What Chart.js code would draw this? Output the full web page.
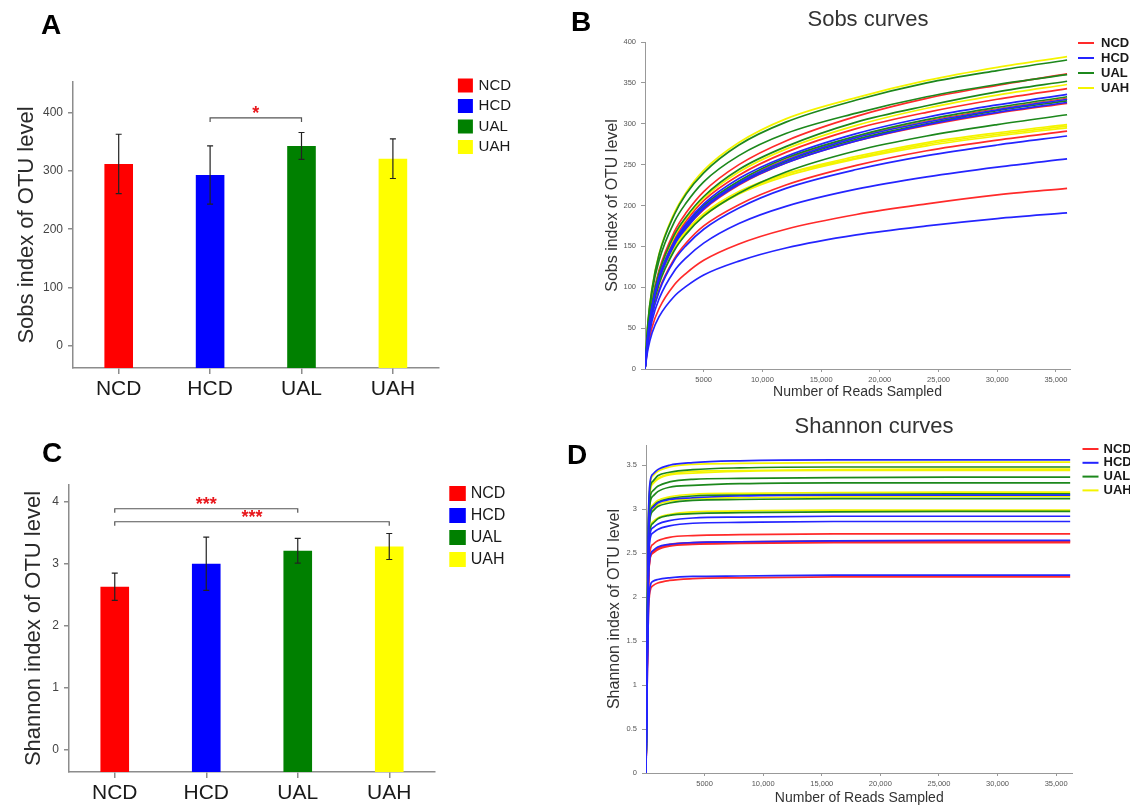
<!DOCTYPE html>
<html>
<head>
<meta charset="utf-8">
<script src="https://cdn.jsdelivr.net/npm/chart.js@4.4.1/dist/chart.umd.min.js"></script>
<style>
  html, body { margin: 0; padding: 0; background: #fff; }
  #fig { position: relative; width: 1130px; height: 807px; overflow: hidden; font-family: 'Liberation Sans', Arial, sans-serif; }
  canvas { position: absolute; }
  .letter { position: absolute; font-weight: bold; font-size: 28px; line-height: 1; color: #000; }
</style>
</head>
<body>
<div id="fig">
  <canvas id="chart-a" width="560" height="400" style="left:0;top:0"></canvas>
  <canvas id="chart-b" width="570" height="400" style="left:560px;top:0"></canvas>
  <canvas id="chart-c" width="560" height="407" style="left:0;top:400px"></canvas>
  <canvas id="chart-d" width="570" height="407" style="left:560px;top:400px"></canvas>
  <div class="letter" style="left:41px;top:11px">A</div>
  <div class="letter" style="left:571px;top:8px">B</div>
  <div class="letter" style="left:42px;top:439px">C</div>
  <div class="letter" style="left:567px;top:441px">D</div>
</div>
<script>
'use strict';

const GROUPS = ['NCD', 'HCD', 'UAL', 'UAH'];
const BAR_COLORS = ['#ff0000', '#0000ff', '#008000', '#ffff00'];
const LINE_COLORS = ['#ff2a2a', '#2424ff', '#1c881c', '#f4f400'];

// A: Sobs index, mean and SD per group
const SOBS_MEAN = [312, 293, 343, 321];
const SOBS_SD = [51, 50, 23, 34];
const SOBS_TICKS = [0, 100, 200, 300, 400];
const SOBS_SIG = [[1, 2, 391, '*']];

// C: Shannon index, mean and SD per group
const SHANNON_MEAN = [2.63, 3.0, 3.21, 3.28];
const SHANNON_SD = [0.22, 0.43, 0.2, 0.21];
const SHANNON_TICKS = [0, 1, 2, 3, 4];
const SHANNON_SIG = [[0, 2, 3.89, '***'], [0, 3, 3.68, '***']];

const READ_TICKS = [5000, 10000, 15000, 20000, 25000, 30000, 35000];
const READ_TICK_LABELS = ['5000', '10,000', '15,000', '20,000', '25,000', '30,000', '35,000'];

// B: Sobs rarefaction curves
const SOBS_READS = [0, 250, 600, 1200, 2500, 3500, 5000, 8000, 12000, 18000, 24000, 30000, 35950];
const SOBS_CURVE_TICKS = [0, 50, 100, 150, 200, 250, 300, 350, 400];
const SOBS_NCD = [
  [0, 45, 83, 121, 168, 191, 217, 250, 279, 309, 331, 347, 361],
  [0, 43, 79, 115, 159, 181, 206, 237, 265, 294, 314, 330, 343],
  [0, 42, 76, 111, 154, 175, 199, 229, 256, 284, 303, 318, 331],
  [0, 41, 74, 109, 151, 172, 195, 225, 252, 279, 298, 313, 325],
  [0, 37, 67, 97, 135, 154, 175, 201, 225, 249, 267, 280, 291],
  [0, 28, 51, 74, 103, 117, 133, 153, 171, 189, 202, 213, 221]
];
const SOBS_HCD = [
  [0, 42, 77, 113, 156, 178, 202, 233, 260, 288, 308, 323, 336],
  [0, 42, 76, 111, 153, 175, 198, 228, 255, 283, 302, 317, 330],
  [0, 41, 75, 109, 152, 172, 196, 226, 252, 279, 299, 314, 326],
  [0, 36, 65, 95, 133, 151, 171, 197, 221, 244, 261, 274, 285],
  [0, 32, 59, 86, 120, 136, 154, 178, 199, 220, 235, 247, 257],
  [0, 24, 44, 64, 89, 101, 115, 132, 148, 164, 175, 184, 191]
];
const SOBS_UAL = [
  [0, 57, 98, 140, 189, 214, 240, 274, 302, 329, 350, 365, 378],
  [0, 54, 94, 133, 180, 203, 229, 261, 288, 313, 333, 348, 360],
  [0, 44, 81, 118, 164, 186, 211, 244, 272, 302, 322, 339, 352],
  [0, 42, 76, 112, 155, 176, 200, 230, 258, 285, 305, 320, 333],
  [0, 41, 75, 110, 153, 174, 197, 227, 254, 281, 300, 316, 328],
  [0, 39, 71, 104, 145, 165, 187, 215, 241, 267, 285, 299, 311]
];
const SOBS_UAH = [
  [0, 57, 99, 141, 191, 216, 243, 277, 306, 332, 353, 369, 382],
  [0, 44, 80, 117, 162, 184, 209, 241, 269, 298, 319, 335, 348],
  [0, 42, 76, 111, 153, 175, 198, 228, 255, 283, 302, 317, 330],
  [0, 45, 78, 111, 150, 169, 190, 217, 239, 260, 277, 289, 299],
  [0, 45, 77, 110, 149, 168, 189, 215, 238, 258, 275, 287, 297],
  [0, 44, 77, 109, 148, 167, 187, 214, 236, 257, 273, 285, 295]
];

// D: Shannon rarefaction curves
const SHANNON_READS = [0, 100, 200, 350, 600, 1000, 2000, 4000, 8000, 16000, 26000, 36200];
const SHANNON_CURVE_TICKS = [0, 0.5, 1, 1.5, 2, 2.5, 3, 3.5];
const SHANNON_NCD = [
  [0, 1.22, 2.18, 2.53, 2.60, 2.64, 2.68, 2.70, 2.71, 2.72, 2.72, 2.72],
  [0, 1.19, 2.11, 2.46, 2.52, 2.56, 2.60, 2.62, 2.63, 2.64, 2.64, 2.64],
  [0, 1.18, 2.10, 2.45, 2.51, 2.55, 2.59, 2.61, 2.62, 2.63, 2.63, 2.63],
  [0, 1.18, 2.10, 2.44, 2.50, 2.54, 2.58, 2.60, 2.61, 2.62, 2.62, 2.62],
  [0, 1.00, 1.78, 2.07, 2.13, 2.16, 2.19, 2.21, 2.22, 2.23, 2.23, 2.23]
];
const SHANNON_HCD = [
  [0, 1.60, 2.85, 3.31, 3.40, 3.45, 3.50, 3.53, 3.55, 3.56, 3.56, 3.56],
  [0, 1.42, 2.53, 2.94, 3.02, 3.07, 3.11, 3.13, 3.15, 3.16, 3.16, 3.16],
  [0, 1.31, 2.34, 2.72, 2.79, 2.83, 2.87, 2.90, 2.91, 2.92, 2.92, 2.92],
  [0, 1.29, 2.29, 2.66, 2.73, 2.77, 2.81, 2.84, 2.85, 2.86, 2.86, 2.86],
  [0, 1.19, 2.12, 2.46, 2.53, 2.57, 2.60, 2.62, 2.63, 2.64, 2.645, 2.645],
  [0, 1.01, 1.80, 2.12, 2.18, 2.20, 2.22, 2.235, 2.24, 2.25, 2.25, 2.25]
];
const SHANNON_UAL = [
  [0, 1.57, 2.78, 3.24, 3.32, 3.38, 3.42, 3.45, 3.47, 3.48, 3.48, 3.48],
  [0, 1.51, 2.69, 3.13, 3.21, 3.26, 3.31, 3.34, 3.35, 3.36, 3.365, 3.365],
  [0, 1.49, 2.64, 3.07, 3.15, 3.20, 3.25, 3.27, 3.29, 3.30, 3.30, 3.30],
  [0, 1.43, 2.54, 2.95, 3.03, 3.08, 3.12, 3.15, 3.16, 3.17, 3.175, 3.175],
  [0, 1.40, 2.50, 2.90, 2.98, 3.03, 3.07, 3.10, 3.11, 3.12, 3.12, 3.12],
  [0, 1.34, 2.38, 2.77, 2.84, 2.89, 2.93, 2.95, 2.96, 2.97, 2.975, 2.975]
];
const SHANNON_UAH = [
  [0, 1.59, 2.83, 3.29, 3.38, 3.43, 3.48, 3.51, 3.52, 3.53, 3.535, 3.535],
  [0, 1.55, 2.76, 3.21, 3.30, 3.35, 3.40, 3.43, 3.44, 3.45, 3.455, 3.455],
  [0, 1.55, 2.75, 3.20, 3.29, 3.34, 3.39, 3.41, 3.43, 3.44, 3.44, 3.44],
  [0, 1.44, 2.56, 2.97, 3.05, 3.10, 3.14, 3.17, 3.18, 3.19, 3.195, 3.195],
  [0, 1.42, 2.52, 2.92, 3.00, 3.05, 3.09, 3.12, 3.13, 3.14, 3.145, 3.145],
  [0, 1.35, 2.39, 2.78, 2.86, 2.90, 2.94, 2.97, 2.98, 2.99, 2.99, 2.99]
];

const FONT = "'Liberation Sans', Arial, sans-serif";
const AXIS = '#8c8c8c';
Chart.defaults.font.family = FONT;

const errorBars = {
  id: 'errorBars',
  afterDatasetsDraw(chart, args, opts) {
    if (!opts.sd) { return; }
    const { ctx, scales: { y } } = chart;
    const values = chart.data.datasets[0].data;
    ctx.save();
    ctx.strokeStyle = '#222';
    ctx.lineWidth = 1.2;
    chart.getDatasetMeta(0).data.forEach((bar, i) => {
      const top = y.getPixelForValue(values[i] + opts.sd[i]);
      const bot = y.getPixelForValue(values[i] - opts.sd[i]);
      ctx.beginPath();
      ctx.moveTo(bar.x, top); ctx.lineTo(bar.x, bot);
      ctx.moveTo(bar.x - 3, top); ctx.lineTo(bar.x + 3, top);
      ctx.moveTo(bar.x - 3, bot); ctx.lineTo(bar.x + 3, bot);
      ctx.stroke();
    });
    ctx.restore();
  }
};

const brackets = {
  id: 'brackets',
  afterDatasetsDraw(chart, args, opts) {
    if (!opts.items) { return; }
    const { ctx, scales: { x, y } } = chart;
    ctx.save();
    opts.items.forEach(([a, b, v, label]) => {
      const x1 = x.getPixelForValue(a);
      const x2 = x.getPixelForValue(b);
      const yy = y.getPixelForValue(v);
      ctx.strokeStyle = '#555';
      ctx.lineWidth = 1.2;
      ctx.beginPath();
      ctx.moveTo(x1, yy + 4); ctx.lineTo(x1, yy); ctx.lineTo(x2, yy); ctx.lineTo(x2, yy + 4);
      ctx.stroke();
      ctx.fillStyle = '#e8161b';
      ctx.font = 'bold 18px ' + FONT;
      ctx.textAlign = 'center';
      ctx.textBaseline = 'alphabetic';
      ctx.fillText(label, (x1 + x2) / 2, yy + 1.5);
    });
    ctx.restore();
  }
};

const sideLegend = {
  id: 'sideLegend',
  afterDraw(chart, args, o) {
    if (!o.labels) { return; }
    const { ctx, chartArea } = chart;
    ctx.save();
    ctx.font = o.font;
    ctx.textAlign = 'left';
    ctx.textBaseline = 'middle';
    o.labels.forEach((label, i) => {
      const cy = o.top + i * o.step;
      const x0 = chartArea.right + o.dx;
      ctx.fillStyle = o.colors[i];
      if (o.line) { ctx.fillRect(x0, cy - 1, o.w, 2); } else { ctx.fillRect(x0, cy - o.h / 2, o.w, o.h); }
      ctx.fillStyle = '#1a1a1a';
      ctx.fillText(label, chartArea.right + o.textDx, cy);
    });
    ctx.restore();
  }
};

const panelTitle = {
  id: 'panelTitle',
  afterDraw(chart, args, o) {
    if (!o.text) { return; }
    const ctx = chart.ctx;
    ctx.save();
    ctx.font = '22px ' + FONT;
    ctx.fillStyle = '#333';
    ctx.textAlign = 'center';
    ctx.textBaseline = 'middle';
    ctx.fillText(o.text, o.x, o.y);
    ctx.restore();
  }
};

function barChart(id, o) {
  return new Chart(document.getElementById(id), {
    type: 'bar',
    data: {
      labels: GROUPS,
      datasets: [{ data: o.values, backgroundColor: BAR_COLORS, base: o.min, barPercentage: 0.313, categoryPercentage: 1 }]
    },
    options: {
      responsive: false,
      animation: false,
      layout: { padding: o.padding },
      plugins: {
        legend: { display: false },
        tooltip: { enabled: false },
        errorBars: { sd: o.sd },
        brackets: { items: o.sig },
        sideLegend: o.legend
      },
      scales: {
        x: {
          grid: { offset: false, drawOnChartArea: false, tickLength: 6, color: AXIS, lineWidth: 1.5 },
          border: { color: AXIS, width: 1.5 },
          ticks: { font: { size: 21 }, color: '#1a1a1a', padding: 3 },
          afterFit: s => { s.height = o.xHeight; }
        },
        y: {
          min: o.min,
          max: o.max,
          afterBuildTicks: s => { s.ticks = o.ticks.map(v => ({ value: v })); },
          grid: { drawOnChartArea: false, tickLength: 5, color: AXIS, lineWidth: 1.5 },
          border: { color: AXIS, width: 1.5 },
          ticks: { font: { size: 12 }, color: '#444', padding: 5, callback: v => String(v) },
          title: { display: true, text: o.yTitle, font: { size: 22, lineHeight: 1 }, color: '#2a2a2a', padding: { top: o.yTitlePad, bottom: 0 } },
          afterFit: s => { s.width = o.yWidth; }
        }
      }
    },
    plugins: [errorBars, brackets, sideLegend]
  });
}

function curveChart(id, o) {
  const datasets = [];
  [1, 2, 3, 0].forEach(g => {
    o.curves[g].forEach(vals => {
      datasets.push({
        data: vals.map((v, i) => ({ x: o.reads[i], y: v })),
        borderColor: LINE_COLORS[g],
        borderWidth: 1.7,
        pointRadius: 0,
        cubicInterpolationMode: 'monotone',
        fill: false
      });
    });
  });
  return new Chart(document.getElementById(id), {
    type: 'line',
    data: { datasets },
    options: {
      responsive: false,
      animation: false,
      layout: { padding: o.padding },
      plugins: {
        legend: { display: false },
        tooltip: { enabled: false },
        sideLegend: o.legend,
        panelTitle: o.title
      },
      scales: {
        x: {
          type: 'linear',
          min: 0,
          max: o.xMax,
          afterBuildTicks: s => { s.ticks = READ_TICKS.map(v => ({ value: v })); },
          grid: { drawOnChartArea: false, tickLength: 3, color: '#999' },
          border: { color: '#999' },
          ticks: { font: { size: 7.5 }, color: '#555', padding: 3, maxRotation: 0, autoSkip: false, callback: (v, i) => READ_TICK_LABELS[i] },
          title: { display: true, text: 'Number of Reads Sampled', font: { size: 14, lineHeight: 1 }, color: '#333', padding: { top: 0, bottom: o.xTitlePad } },
          afterFit: s => { s.height = o.xHeight; }
        },
        y: {
          min: 0,
          max: o.yMax,
          afterBuildTicks: s => { s.ticks = o.ticks.map(v => ({ value: v })); },
          grid: { drawOnChartArea: false, tickLength: 4, color: '#999' },
          border: { color: '#999' },
          ticks: { font: { size: 7.5 }, color: '#555', padding: 5, callback: v => String(v) },
          title: { display: true, text: o.yTitle, font: { size: 16, lineHeight: 1 }, color: '#333', padding: { top: o.yTitlePad, bottom: 0 } },
          afterFit: s => { s.width = o.yWidth; }
        }
      }
    },
    plugins: [sideLegend, panelTitle]
  });
}

barChart('chart-a', {
  values: SOBS_MEAN, sd: SOBS_SD, sig: SOBS_SIG, ticks: SOBS_TICKS,
  min: -38.3, max: 452.7,
  padding: { left: 0, top: 82, right: 121.4, bottom: 0 },
  xHeight: 32, yWidth: 73, yTitlePad: 15.8,
  yTitle: 'Sobs index of OTU level',
  legend: { labels: GROUPS, colors: BAR_COLORS, top: 85.5, step: 20.5, dx: 19.3, w: 15, h: 14, textDx: 40, font: '15px ' + FONT }
});

barChart('chart-c', {
  values: SHANNON_MEAN, sd: SHANNON_SD, sig: SHANNON_SIG, ticks: SHANNON_TICKS,
  min: -0.365, max: 4.274,
  padding: { left: 0, top: 85, right: 125, bottom: 0 },
  xHeight: 35, yWidth: 69, yTitlePad: 23,
  yTitle: 'Shannon index of OTU level',
  legend: { labels: GROUPS, colors: BAR_COLORS, top: 93.5, step: 22, dx: 14.3, w: 16.5, h: 15, textDx: 35.7, font: '16px ' + FONT }
});

curveChart('chart-b', {
  reads: SOBS_READS, curves: [SOBS_NCD, SOBS_HCD, SOBS_UAL, SOBS_UAH], ticks: SOBS_CURVE_TICKS,
  xMax: 36200, yMax: 400,
  padding: { left: 0, top: 42, right: 60, bottom: 0 },
  xHeight: 31, yWidth: 85, yTitlePad: 44.7, xTitlePad: 1,
  yTitle: 'Sobs index of OTU level',
  title: { text: 'Sobs curves', x: 308, y: 20 },
  legend: { labels: GROUPS, colors: LINE_COLORS, line: true, top: 43, step: 15, dx: 8, w: 16, textDx: 31, font: 'bold 13px ' + FONT }
});

curveChart('chart-d', {
  reads: SHANNON_READS, curves: [SHANNON_NCD, SHANNON_HCD, SHANNON_UAL, SHANNON_UAH], ticks: SHANNON_CURVE_TICKS,
  xMax: 36400, yMax: 3.73,
  padding: { left: 0, top: 45, right: 57.5, bottom: 0 },
  xHeight: 34, yWidth: 86, yTitlePad: 46.5, xTitlePad: 1.7,
  yTitle: 'Shannon index of OTU level',
  title: { text: 'Shannon curves', x: 314, y: 27 },
  legend: { labels: GROUPS, colors: LINE_COLORS, line: true, top: 49, step: 13.8, dx: 10, w: 16, textDx: 31, font: 'bold 13px ' + FONT }
});
</script>
</body>
</html>
